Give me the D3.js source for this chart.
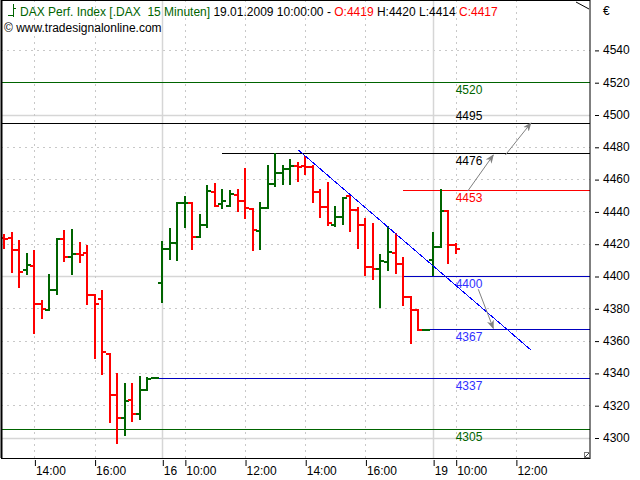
<!DOCTYPE html>
<html><head><meta charset="utf-8">
<script src="https://cdn.jsdelivr.net/npm/d3@7"></script>
<style>body{margin:0;background:#fff}svg{display:block;font-family:"Liberation Sans",Arial,sans-serif}</style>
</head><body>
<svg id="c" width="640" height="480"></svg>
<script>
// ---- data ----
const slots  = [0,1,2,3,4,5,6,7,8,9,10,11,12,13,14,15,16,17,18,19,20,21,22,23,24,25,26,27,28,29,30,31,32,33,34,35,36,37,38,39,40,41,42,43,44,45,46,47,48,49,50,51,52,53,54,55,56,57,58,59,60];
const opens  = [4423.5,4423.3,4416.1,4403.7,4406.2,4382.5,4378.8,4391.1,4422.7,4411.6,4413.4,4414.1,4388.0,4385.6,4351.7,4326.3,4311.9,4323.2,4314.6,4329.2,4336.8,
                4395.5,4416.5,4420.4,4445.0,4445.0,4424.0,4431.4,4452.0,4444.4,4443.2,4450.2,4446.4,4441.5,4427.9,4442.3,4456.8,4463.6,4466.1,4467.9,4467.9,4467.5,4452.2,4442.9,4431.8,4436.3,4449.5,4440.9,4431.6,4405.8,4404.3,4408.5,4414.1,4407.2,4387.2,4378.9,4366.8,
                4409.9,4417.8,4440.2,4419];
const highs  = [4425.4,4426.6,4421.7,4413.6,4415.5,4384.5,4400.6,4422.9,4428.0,4428.5,4420.4,4418.6,4388.0,4390.9,4351.7,4339.3,4333.1,4333.3,4337.5,4336.8,4336.8,
                4421.2,4429.1,4445.0,4448.7,4445.0,4437.8,4455.7,4456.8,4453.3,4452.6,4453.3,4466.3,4441.5,4445.0,4467.9,4475.4,4468.3,4471.8,4469.8,4473.9,4467.9,4453.3,4457.8,4442.9,4448.3,4450.2,4441.9,4435.1,4432.2,4413.0,4430.5,4426.0,4411.1,4387.2,4378.9,4366.8,
                4426.8,4453.0,4440.2,4420];
const lows   = [4417.2,4402.7,4393.0,4401.2,4364.9,4374.2,4378.8,4389.0,4409.5,4401.4,4408.9,4382.8,4349.4,4339.5,4309.3,4296.4,4301.7,4310.0,4311.3,4329.2,4336.8,
                4384.1,4410.7,4410.1,4430.5,4416.5,4424.0,4430.2,4443.2,4441.9,4443.2,4440.4,4436.1,4416.1,4416.9,4442.3,4455.9,4457.1,4456.8,4459.0,4463.0,4446.0,4436.7,4431.4,4431.0,4432.2,4428.0,4417.2,4400.8,4398.0,4380.6,4403.5,4401.7,4382.2,4358.3,4366.6,4366.8,
                4400.6,4417.8,4408.2,4414];
const closes = [4423.0,4416.1,4402.5,4406.8,4382.5,4379.4,4391.1,4422.7,4411.6,4413.4,4413.0,4388.0,4382.5,4352.8,4326.3,4311.9,4322.6,4314.6,4329.2,4336.5,4336.8,
                4416.5,4420.4,4445.0,4445.3,4424.0,4431.4,4452.4,4443.5,4446.4,4450.6,4446.4,4441.9,4428.3,4442.3,4456.8,4463.6,4466.1,4467.9,4467.6,4467.3,4452.0,4442.9,4432.6,4436.3,4448.3,4440.9,4431.4,4405.8,4404.3,4409.3,4414.9,4407.2,4387.2,4378.9,4366.6,4366.8,
                4417.8,4440.2,4419.2,4417];

const yTickValues  = [4300,4320,4340,4360,4380,4400,4420,4440,4460,4480,4500,4520,4540];
const yMajorGrid   = [4300,4400,4500];
const xTickSlots   = [4,12,21,24,32,40,48,57,60,68];
const xTickLabels  = ["14:00","16:00","16","10:00","12:00","14:00","16:00","19","10:00","12:00"];
const daySlots     = [21,57];

const levelValues  = [4520,4495,4476,4453,4400,4367,4337,4305];
const levelStarts  = [-2,-2,29,53,53,55,19,-2];
const levelKinds   = ["green","black","black","red","blue","blue","blue","green"];

const trendFrom = [39, 4478.3];
const trendTo   = [70, 4354.2];
const arrowFrom = [[61.6,4452.6],[66.6,4474.9],[63.0,4391.8]];
const arrowTo   = [[65.0,4474.9],[70.0,4494.7],[65.0,4367.6]];

// ---- styles ----
const GREEN="#006400", RED="#ff0000";
const lineColor  = {green:"#006400", black:"#000000", red:"#ff0000", blue:"#0000c0"};
const labelColor = {green:"#006400", black:"#000000", red:"#ff0000", blue:"#3030ff"};

const svg=d3.select("#c");
const P={l:1,t:0,r:590,b:458};
const x=d3.scaleLinear().domain([0,60]).range([4.3,455.7]);
const y=d3.scaleLinear().domain([4300,4540]).range([437.5,49.9]);

svg.append("defs").append("clipPath").attr("id","clip")
  .append("rect").attr("x",P.l).attr("y",P.t).attr("width",P.r-P.l).attr("height",P.b-P.t);
svg.select("defs").append("marker").attr("id","ah").attr("viewBox","0 0 10 10")
  .attr("refX",9).attr("refY",5).attr("markerWidth",9).attr("markerHeight",9)
  .attr("markerUnits","userSpaceOnUse").attr("orient","auto")
  .append("path").attr("d","M0,1 L10,5 L0,9 L3,5 Z").attr("fill","#808080");

const g=svg.append("g").attr("clip-path","url(#clip)");

// grid
const gy=yTickValues.filter(v=>!yMajorGrid.includes(v));
g.selectAll(".hg").data(gy).join("line")
  .attr("x1",P.l).attr("x2",P.r).attr("y1",d=>Math.round(y(d))+0.5).attr("y2",d=>Math.round(y(d))+0.5)
  .attr("stroke","#c8c8c8").attr("stroke-dasharray","2,4");
g.selectAll(".hm").data(yMajorGrid).join("line")
  .attr("x1",P.l).attr("x2",P.r).attr("y1",d=>Math.round(y(d))+0.5).attr("y2",d=>Math.round(y(d))+0.5)
  .attr("stroke","#d6d6d6").attr("stroke-width",1.5);
g.selectAll(".vg").data(xTickSlots.filter(s=>!daySlots.includes(s))).join("line")
  .attr("x1",d=>Math.round(x(d))+0.5).attr("x2",d=>Math.round(x(d))+0.5).attr("y1",P.t).attr("y2",P.b)
  .attr("stroke","#c8c8c8").attr("stroke-dasharray","2,4");
g.selectAll(".vd").data(daySlots).join("line")
  .attr("x1",d=>Math.round(x(d))+0.5).attr("x2",d=>Math.round(x(d))+0.5).attr("y1",P.t).attr("y2",P.b)
  .attr("stroke","#d6d6d6").attr("stroke-width",1.5);

// level lines
levelValues.forEach((v,i)=>{
  const yy=Math.round(y(v))+0.5;
  g.append("line").attr("x1",x(levelStarts[i])).attr("x2",P.r).attr("y1",yy).attr("y2",yy)
    .attr("stroke",lineColor[levelKinds[i]]).attr("stroke-width",1).attr("shape-rendering","crispEdges");
});

// bars
const bars=g.append("g").attr("shape-rendering","crispEdges").attr("stroke-width",2);
slots.forEach((s,i)=>{
  const c = closes[i]>=opens[i]?GREEN:RED;
  const xx=Math.round(x(s));
  const bg=bars.append("g").attr("stroke",c);
  bg.append("line").attr("x1",xx).attr("x2",xx).attr("y1",Math.round(y(highs[i]))-1).attr("y2",Math.round(y(lows[i]))+1);
  bg.append("line").attr("x1",xx-4).attr("x2",xx).attr("y1",Math.round(y(opens[i]))).attr("y2",Math.round(y(opens[i])));
  bg.append("line").attr("x1",xx).attr("x2",xx+4).attr("y1",Math.round(y(closes[i]))).attr("y2",Math.round(y(closes[i])));
});

// trend line
g.append("line").attr("x1",x(trendFrom[0])).attr("y1",y(trendFrom[1]))
  .attr("x2",x(trendTo[0])).attr("y2",y(trendTo[1]))
  .attr("stroke","#0000ff").attr("stroke-width",1).attr("shape-rendering","crispEdges");

// level labels
levelValues.forEach((v,i)=>{
  const above = v===4495;
  g.append("text").attr("x",x(60)).attr("y",y(v)+(above?-3:12))
    .attr("font-size",12).attr("fill",labelColor[levelKinds[i]]).text(String(v));
});

// arrows
arrowFrom.forEach((a,i)=>{
  g.append("line").attr("x1",x(a[0])).attr("y1",y(a[1])).attr("x2",x(arrowTo[i][0])).attr("y2",y(arrowTo[i][1]))
    .attr("stroke","#808080").attr("stroke-width",1).attr("marker-end","url(#ah)");
});

// frame
svg.append("rect").attr("x",P.l+0.5).attr("y",P.t+0.5).attr("width",P.r-P.l-0.5).attr("height",P.b-P.t)
  .attr("fill","none").attr("stroke","#000").attr("stroke-width",1);
svg.append("line").attr("x1",1.5).attr("x2",1.5).attr("y1",0).attr("y2",P.b).attr("stroke","#000").attr("stroke-width",2);
// corner glyphs
svg.append("line").attr("x1",576).attr("y1",2).attr("x2",589).attr("y2",9).attr("stroke","#000");
svg.append("rect").attr("x",584.5).attr("y",452.5).attr("width",5).attr("height",5).attr("fill","#fff").attr("stroke","#777");
svg.append("line").attr("x1",585).attr("y1",457).attr("x2",589).attr("y2",453).attr("stroke","#444");

// right axis
const ya=svg.append("g").attr("transform",`translate(595,0)`)
  .call(d3.axisRight(y).tickValues(yTickValues).tickSize(4).tickPadding(4).tickFormat(d3.format("d")));
ya.select(".domain").remove();
ya.selectAll("line").attr("stroke","#000").attr("transform","translate(0,0.5)");
ya.selectAll("text").attr("font-size",12).attr("font-family","Liberation Sans, Arial, sans-serif").attr("fill","#000");
svg.append("text").attr("x",603).attr("y",15).attr("font-size",12).text("€");

// bottom axis
const xa=svg.append("g").attr("transform",`translate(0,460)`)
  .call(d3.axisBottom(x).tickValues(xTickSlots).tickSize(6).tickFormat((d,i)=>xTickLabels[i]));
xa.select(".domain").remove();
xa.selectAll("line").attr("stroke","#000").attr("transform","translate(0.5,0)");
xa.selectAll("text").attr("font-size",12).attr("font-family","Liberation Sans, Arial, sans-serif")
  .attr("fill","#000").attr("text-anchor","start").attr("x",1).attr("y",15).attr("dy",0);

// header
const ic=svg.append("g").attr("stroke",GREEN).attr("stroke-width",1).attr("shape-rendering","crispEdges");
ic.append("line").attr("x1",13.5).attr("x2",13.5).attr("y1",4).attr("y2",17);
ic.append("line").attr("x1",8).attr("x2",13.5).attr("y1",15.5).attr("y2",15.5);
ic.append("line").attr("x1",13.5).attr("x2",16).attr("y1",8.5).attr("y2",8.5);
const ht=svg.append("text").attr("x",20).attr("y",16).attr("font-size",12).attr("xml:space","preserve").style("white-space","pre");
ht.append("tspan").attr("fill",GREEN).text("DAX Perf. Index [.DAX  15 Minuten] ");
ht.append("tspan").attr("fill","#000").text("19.01.2009 10:00:00 - ");
ht.append("tspan").attr("fill",RED).text("O:4419");
ht.append("tspan").attr("fill","#000").text(" H:4420 L:4414 ");
ht.append("tspan").attr("fill",RED).text("C:4417");
svg.append("text").attr("x",4).attr("y",32).attr("font-size",12).attr("fill","#000").text("© www.tradesignalonline.com");
</script>
</body></html>
